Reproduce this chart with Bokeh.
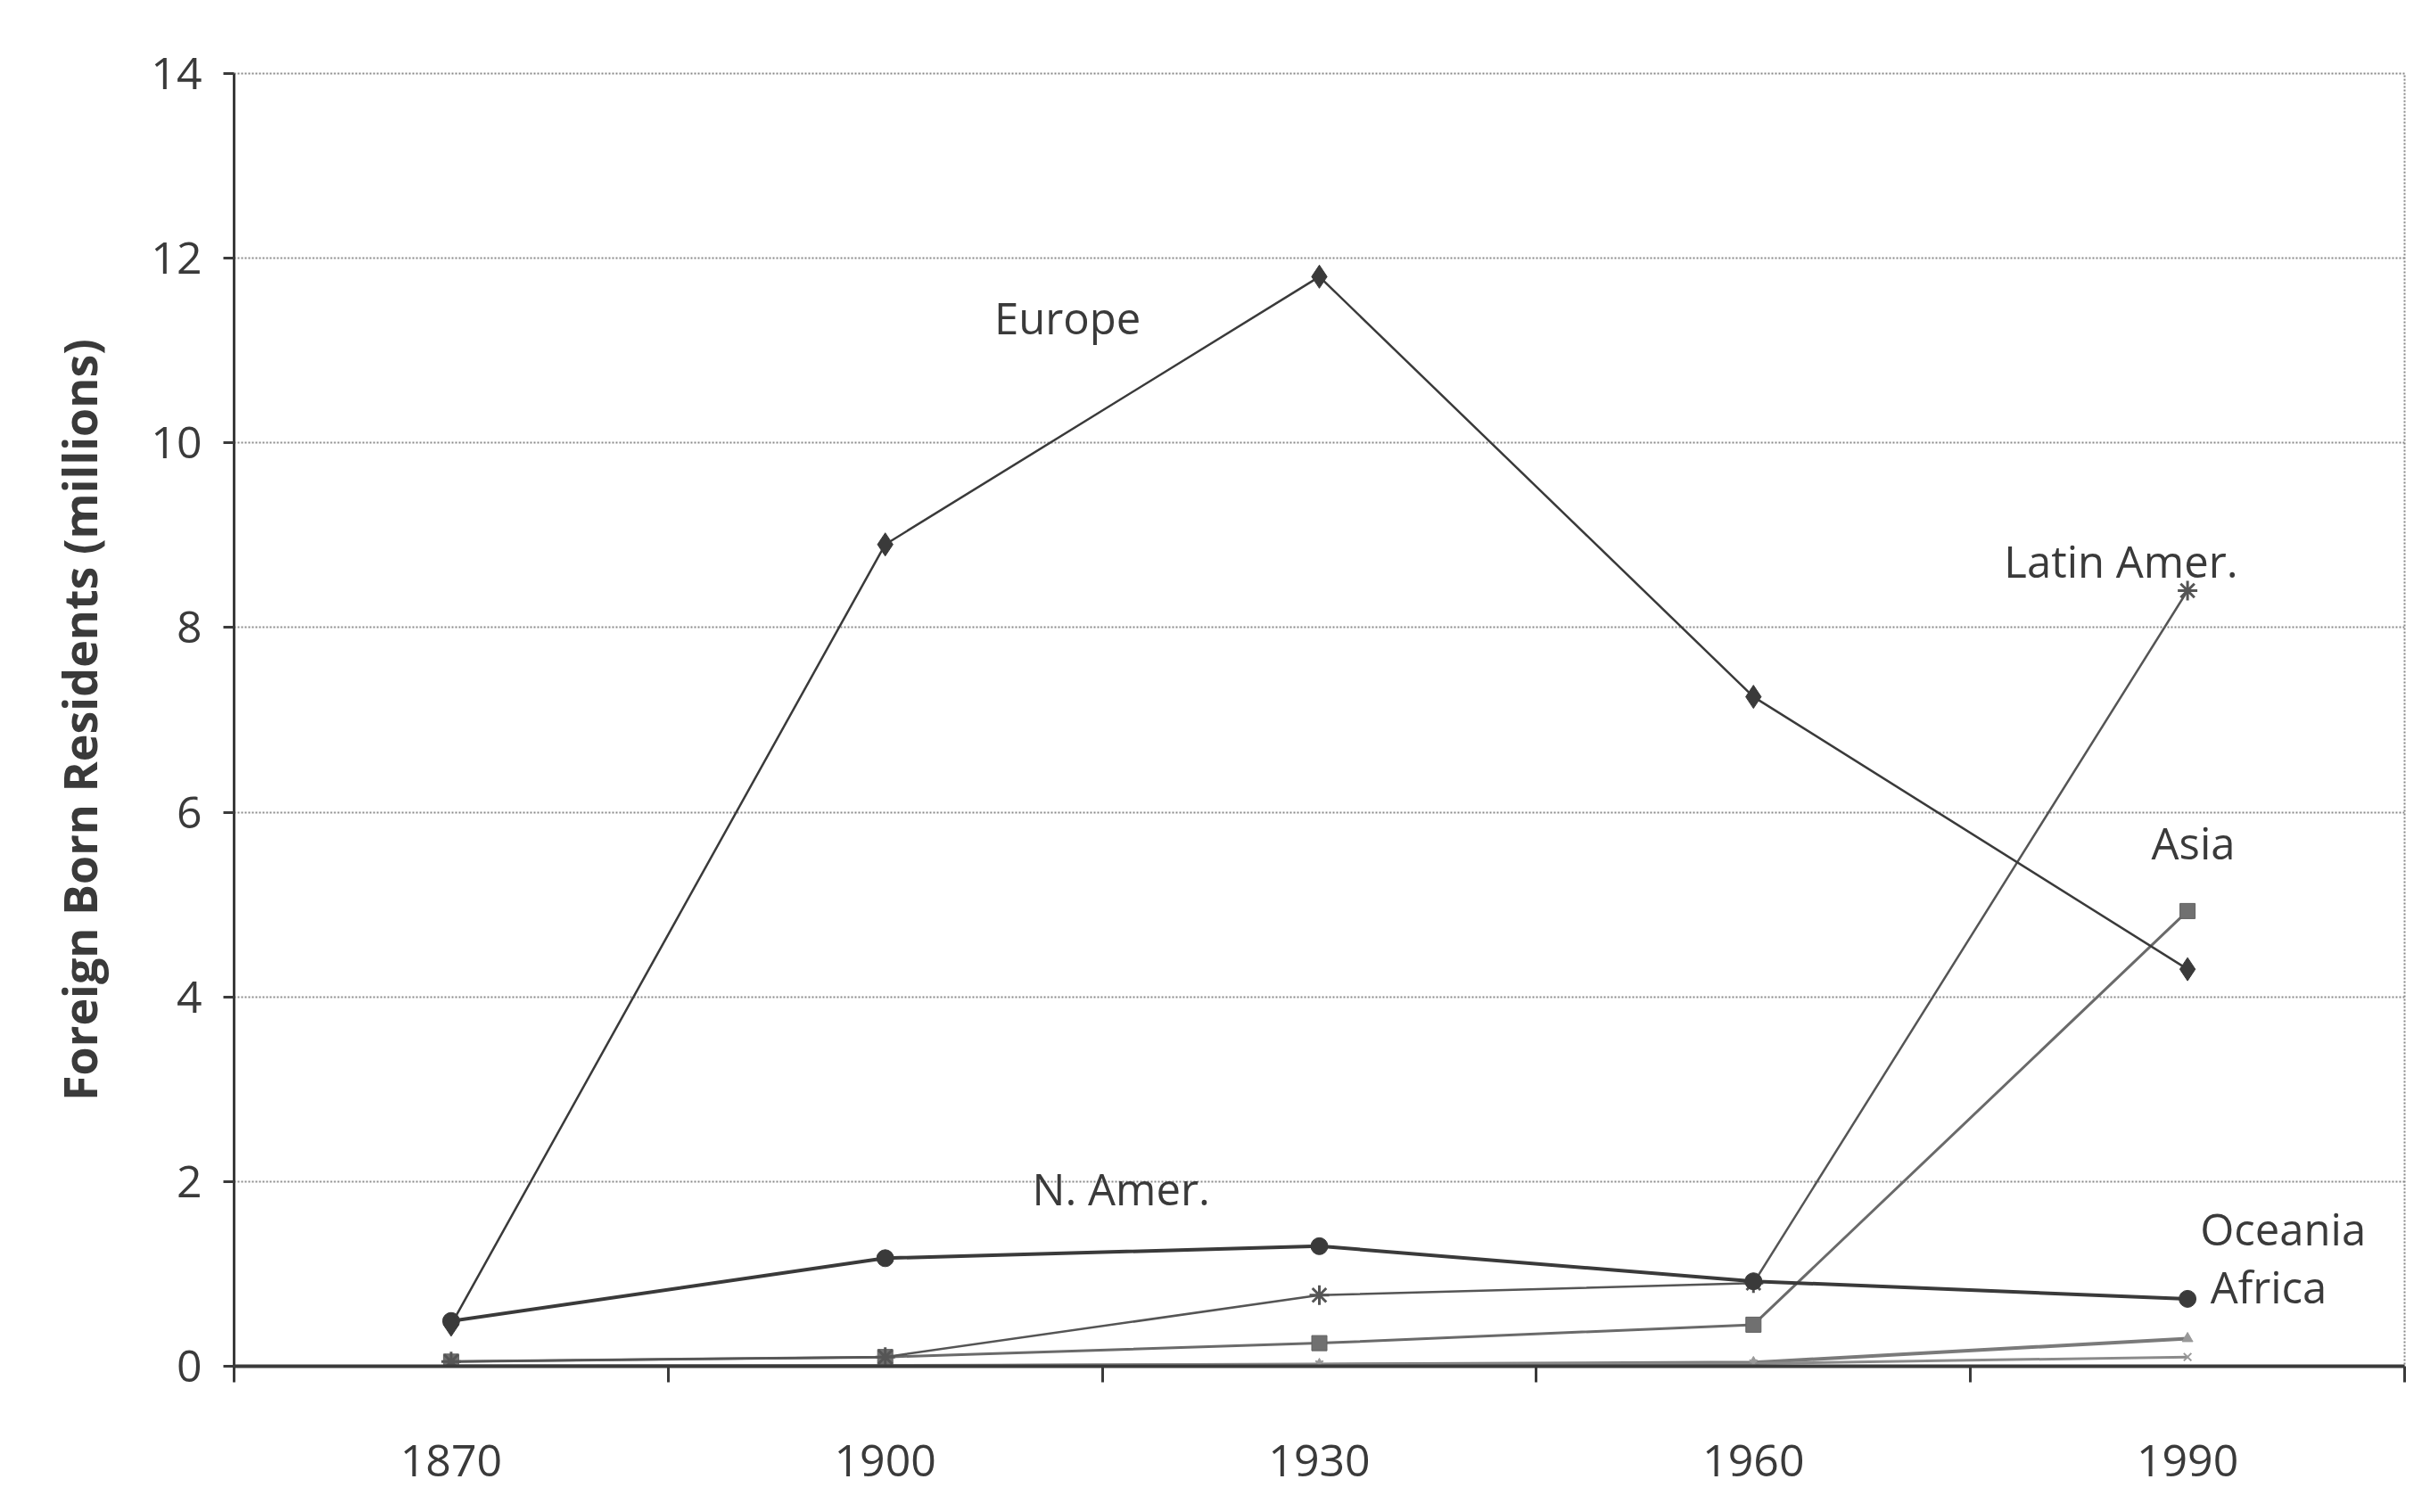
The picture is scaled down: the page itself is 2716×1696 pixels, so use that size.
from bokeh.plotting import figure
from bokeh.models import FixedTicker, Range1d, Label
from bokeh.embed import file_html
from bokeh.resources import INLINE

years = [1870, 1900, 1930, 1960, 1990]
europe = [0.45, 8.9, 11.8, 7.25, 4.3]
n_amer = [0.49, 1.17, 1.3, 0.92, 0.73]
latin_amer = [0.05, 0.1, 0.77, 0.9, 8.4]
asia = [0.05, 0.1, 0.25, 0.45, 4.93]
africa = [0.0, 0.0, 0.02, 0.04, 0.3]
oceania = [0.0, 0.01, 0.02, 0.03, 0.1]

y_ticks = [0, 2, 4, 6, 8, 10, 12, 14]
x_tick_labels = ["1870", "1900", "1930", "1960", "1990"]

labels = [
    ("Europe", 1912.6, 11.36),
    ("Latin Amer.", 1985.4, 8.72),
    ("Asia", 1990.4, 5.67),
    ("N. Amer.", 1916.3, 1.93),
    ("Oceania", 1996.6, 1.49),
    ("Africa", 1995.6, 0.86),
]

FONT = "Open Sans"
INK = "#3a3a3a"

p = figure(width=2700, height=1670, output_backend="svg", toolbar_location=None,
           x_range=Range1d(1855, 2005), y_range=Range1d(0, 14),
           min_border_left=262, min_border_right=4, min_border_top=82, min_border_bottom=138)
p.background_fill_color = "white"
p.border_fill_color = "white"
p.outline_line_color = "#888888"
p.outline_line_dash = "2 2"
p.outline_line_width = 2

# grid
p.xgrid.visible = False
p.ygrid.grid_line_color = "#8a8a8a"
p.ygrid.grid_line_dash = "2 2"
p.ygrid.grid_line_width = 2

# y axis
p.yaxis.ticker = FixedTicker(ticks=y_ticks)
p.yaxis.axis_line_color = INK
p.yaxis.axis_line_width = 3
p.yaxis.major_tick_line_color = INK
p.yaxis.major_tick_line_width = 3
p.yaxis.major_tick_out = 12
p.yaxis.major_tick_in = 0
p.yaxis.minor_tick_line_color = None
p.yaxis.major_label_text_font = FONT
p.yaxis.major_label_text_font_size = "50px"
p.yaxis.major_label_text_color = INK
p.yaxis.major_label_standoff = 24
p.yaxis.axis_label = "Foreign Born Residents (millions)"
p.yaxis.axis_label_text_font = FONT
p.yaxis.axis_label_text_font_style = "bold"
p.yaxis.axis_label_text_font_size = "52px"
p.yaxis.axis_label_text_color = INK
p.yaxis.axis_label_standoff = 42

# x axis: labels at categories, tick marks between categories
p.xaxis.ticker = FixedTicker(ticks=years, minor_ticks=[1855, 1885, 1915, 1945, 1975, 2005])
p.xaxis.major_label_overrides = {y: s for y, s in zip(years, x_tick_labels)}
p.xaxis.axis_line_color = INK
p.xaxis.axis_line_width = 4
p.xaxis.major_tick_line_color = None
p.xaxis.major_tick_out = 0
p.xaxis.major_tick_in = 0
p.xaxis.minor_tick_line_color = INK
p.xaxis.minor_tick_line_width = 3
p.xaxis.minor_tick_out = 18
p.xaxis.minor_tick_in = 0
p.xaxis.major_label_text_font = FONT
p.xaxis.major_label_text_font_size = "50px"
p.xaxis.major_label_text_color = INK
p.xaxis.major_label_standoff = 70

# series
p.line(years, africa, line_color="#7a7a7a", line_width=4)
p.scatter(years, africa, marker="triangle", size=12, fill_color="#999999", line_color="#999999")
p.line(years, oceania, line_color="#8a8a8a", line_width=3)
p.scatter(years, oceania, marker="x", size=12, line_color="#999999", line_width=2)

p.line(years, asia, line_color="#6a6a6a", line_width=3)
p.scatter(years, asia, marker="square", size=17, fill_color="#707070", line_color="#606060")

p.line(years, latin_amer, line_color="#555555", line_width=2.5)
p.scatter(years, latin_amer, marker="asterisk", size=22, line_color="#555555", line_width=3)

p.line(years, n_amer, line_color=INK, line_width=4)
p.scatter(years, n_amer, marker="circle", size=19, fill_color=INK, line_color=INK)

p.line(years, europe, line_color=INK, line_width=2.5)
p.scatter(years, europe, marker="diamond", size=26, fill_color=INK, line_color=INK)

for txt, x, y in labels:
    p.add_layout(Label(x=x, y=y, text=txt, text_font=FONT, text_font_size="49px",
                       text_color=INK, text_align="center", text_baseline="middle"))

open("out.html", "w").write(file_html(p, INLINE))
